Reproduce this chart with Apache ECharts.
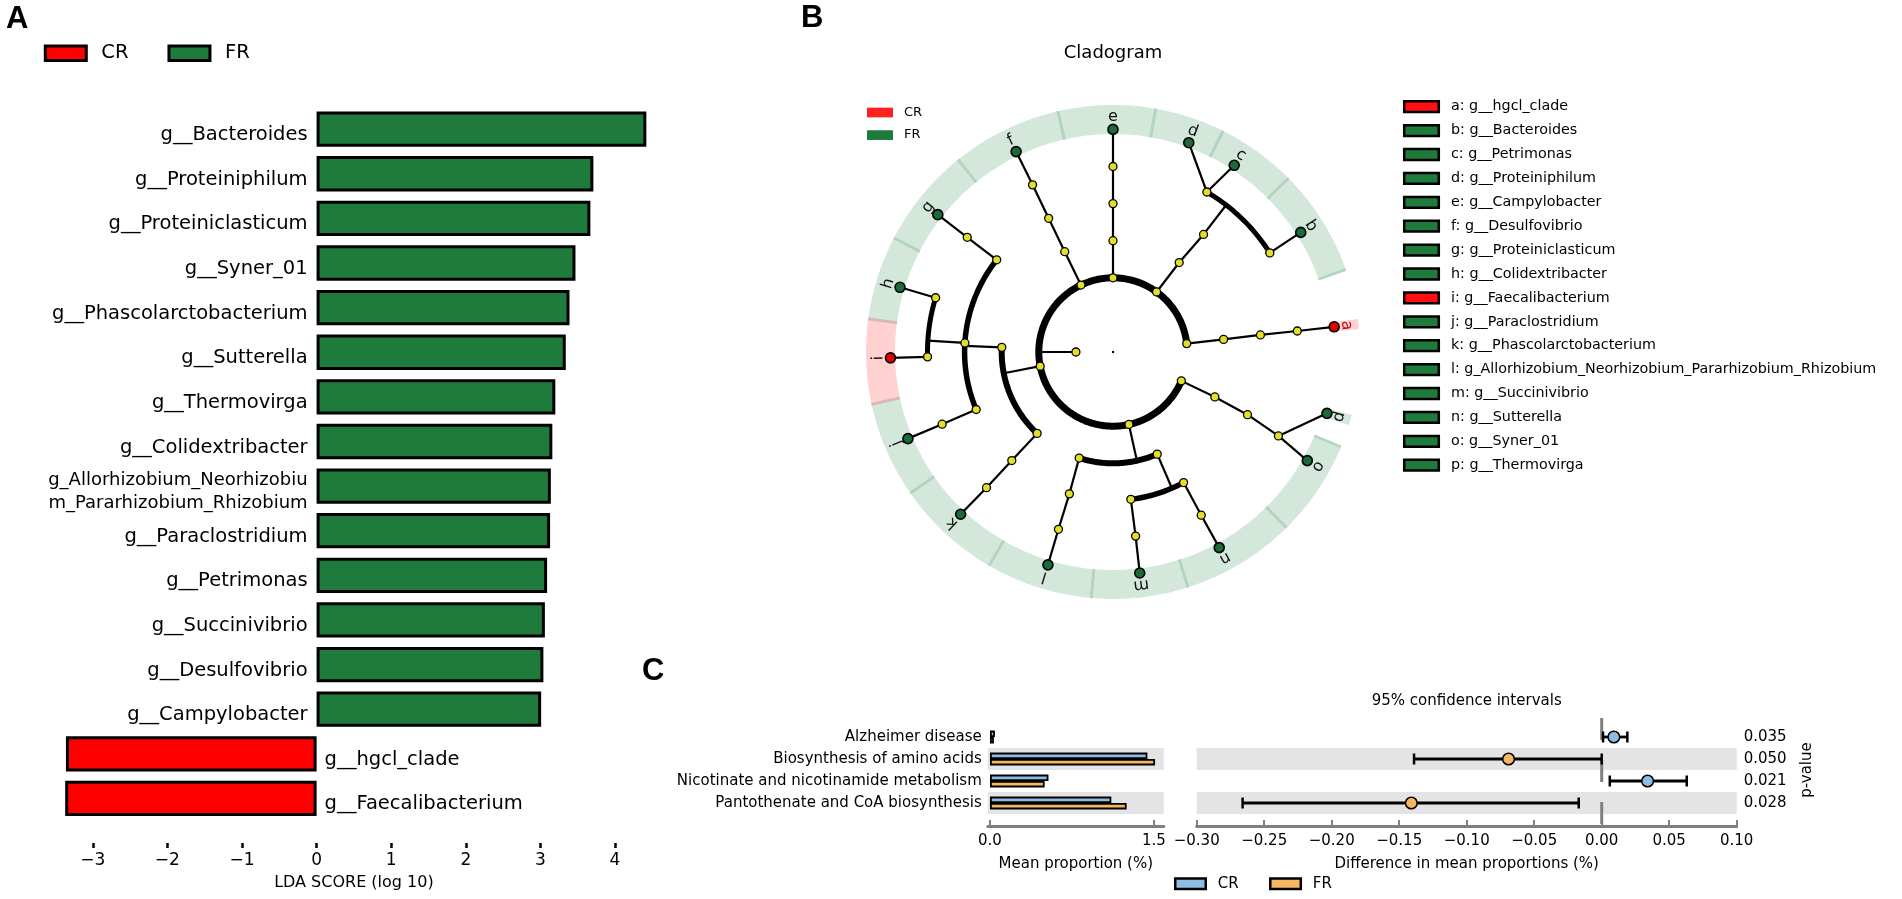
<!DOCTYPE html>
<html><head><meta charset="utf-8">
<script src="https://cdn.jsdelivr.net/npm/echarts@6/dist/echarts.min.js"></script>
<style>html,body{margin:0;padding:0;background:#fff;}#c{width:1902px;height:899px;}</style>
</head><body><div id="c"></div>
<script>
// ---------------- Panel A : LDA scores ----------------
const ldaTaxa = ['g__Bacteroides','g__Proteiniphilum','g__Proteiniclasticum','g__Syner_01','g__Phascolarctobacterium','g__Sutterella','g__Thermovirga','g__Colidextribacter','g_Allorhizobium_Neorhizobium_Pararhizobium_Rhizobium','g__Paraclostridium','g__Petrimonas','g__Succinivibrio','g__Desulfovibrio','g__Campylobacter','g__hgcl_clade','g__Faecalibacterium'];
const ldaScores = [4.42, 3.71, 3.67, 3.47, 3.39, 3.34, 3.20, 3.16, 3.14, 3.13, 3.09, 3.06, 3.04, 3.01, -3.36, -3.37];
const ldaGroups = ['FR','FR','FR','FR','FR','FR','FR','FR','FR','FR','FR','FR','FR','FR','CR','CR'];
const ldaTicks = [-3, -2, -1, 0, 1, 2, 3, 4];

// ---------------- Panel B : cladogram ----------------
const leafCodes = ['a','b','c','d','e','f','g','h','i','j','k','l','m','n','o','p'];
const leafNames = ['g__hgcl_clade','g__Bacteroides','g__Petrimonas','g__Proteiniphilum','g__Campylobacter','g__Desulfovibrio','g__Proteiniclasticum','g__Colidextribacter','g__Faecalibacterium','g__Paraclostridium','g__Phascolarctobacterium','g_Allorhizobium_Neorhizobium_Pararhizobium_Rhizobium','g__Succinivibrio','g__Sutterella','g__Syner_01','g__Thermovirga'];
const leafGroups = ['CR','FR','FR','FR','FR','FR','FR','FR','CR','FR','FR','FR','FR','FR','FR','FR'];
// tree nodes: id, parent, taxonomic level (0 = root ... 6 = genus), angle (deg)
const cladeIds     = ['root','K','P_a','P_bcd','P_e','P_f','P_gk','P_lmn','P_op','C_a','C_bcd','C_e','C_f','C_gj','C_k','C_l','C_mn','C_op','O_a','O_bcd','O_e','O_f','O_g','O_hi','O_j','O_k','O_l','O_m','O_n','O_op','F_a','F_b','F_cd','F_e','F_f','F_g','F_h','F_i','F_j','F_k','F_l','F_m','F_n','F_op','a','b','c','d','e','f','g','h','i','j','k','l','m','n','o','p'];
const cladeParents = [null,'root','K','K','K','K','K','K','K','P_a','P_bcd','P_e','P_f','P_gk','P_gk','P_lmn','P_lmn','P_op','C_a','C_bcd','C_e','C_f','C_gj','C_gj','C_gj','C_k','C_l','C_mn','C_mn','C_op','O_a','O_bcd','O_bcd','O_e','O_f','O_g','O_hi','O_hi','O_j','O_k','O_l','O_m','O_n','O_op','F_a','F_b','F_cd','F_cd','F_e','F_f','F_g','F_h','F_i','F_j','F_k','F_l','F_m','F_n','F_op','F_op'];
const cladeLevels  = [0,1,2,2,2,2,2,2,2,3,3,3,3,3,3,3,3,3,4,4,4,4,4,4,4,4,4,4,4,4,5,5,5,5,5,5,5,5,5,5,5,5,5,5,6,6,6,6,6,6,6,6,6,6,6,6,6,6,6,6];
const cladeAngles  = [0,180,6.5,54,90,115.6,191,282.4,337.1,6.5,53.5,90,115.7,177.6,227,252.3,293.4,336.2,6.6,52.4,90,115.7,141.6,176.5,202.8,227,252.9,276.9,298.4,335,6.5,32.3,59.6,90,115.7,141.8,163,181.5,202.9,227,252.9,277,298.4,333.1,6.5,32.5,57,70.1,90,115.8,141.9,163.1,181.5,202.9,226.8,253,276.9,298.5,330.8,344];

// ---------------- Panel C : STAMP ----------------
const pathways = ['Alzheimer disease','Biosynthesis of amino acids','Nicotinate and nicotinamide metabolism','Pantothenate and CoA biosynthesis'];
const meanCR = [0.045, 1.44, 0.535, 1.11];
const meanFR = [0.036, 1.51, 0.50, 1.25];
const diffMean = [0.009, -0.069, 0.034, -0.141];
const diffLow  = [0.001, -0.139, 0.006, -0.266];
const diffHigh = [0.019, 0.000, 0.063, -0.017];
const pValues = ['0.035','0.050','0.021','0.028'];

// ---------------- styles ----------------
const FONT = 'DejaVu Sans';
const BOLD = 'Liberation Sans';
const colA = {CR: '#ff0000', FR: '#1f7b3c'};
const colC = {CR: '#8fbce2', FR: '#f7b762'};
const leafFill = {CR: '#e40000', FR: '#1b6a39'};
const boxFill = {CR: '#ff1010', FR: '#1f7b3c'};
const bandFill = {CR: '#ffd1d1', FR: '#d3e8da'};
const bandEdge = {CR: '#e0b5b5', FR: '#b3d4be'};
const YELLOW = '#e4de26';
const BAND_IN = 5.876, BAND_OUT = 6.657, LABEL_R = 6.33;
const arcWidth = {1: 7, 2: 6, 3: 5.5, 4: 5};

const idxOf = {}; cladeIds.forEach((id, i) => idxOf[id] = i);
const kids = cladeIds.map(() => []);
cladeParents.forEach((p, i) => { if (p !== null) kids[idxOf[p]].push(i); });
const leafAngle = k => cladeAngles[idxOf[leafCodes[k]]];

function arcPts(api, lv, a1, a2) {
  const n = Math.max(2, Math.ceil(Math.abs(a2 - a1)) + 1), pts = [];
  for (let s = 0; s < n; s++) pts.push(api.coord([lv, a1 + (a2 - a1) * s / (n - 1)]));
  return pts;
}

function renderClade(params, api) {
  const i = params.dataIndex, lv = cladeLevels[i], ang = cladeAngles[i];
  const els = [];
  const p = cladeParents[i] === null ? -1 : idxOf[cladeParents[i]];
  if (p >= 0 && cladeLevels[p] > 0) {
    const sib = kids[p];
    if (sib.length === 1 || sib.every(k => kids[k].length === 0)) {
      const a = api.coord([cladeLevels[p], cladeAngles[p]]), b = api.coord([lv, ang]);
      els.push({type: 'line', z2: 1, shape: {x1: a[0], y1: a[1], x2: b[0], y2: b[1]}, style: {stroke: '#000', lineWidth: 2.2}});
    }
  }
  const ch = kids[i];
  if (lv > 0 && ch.length > 1 && !ch.every(k => kids[k].length === 0)) {
    const cl = cladeLevels[ch[0]];
    const angs = ch.map(k => cladeAngles[k]);
    els.push({type: 'polyline', z2: 2, shape: {points: arcPts(api, cl, Math.min(...angs), Math.max(...angs))}, style: {stroke: '#000', fill: 'none', lineWidth: arcWidth[lv] || 5}});
    const a = api.coord([lv, ang]), b = api.coord([cl, ang]);
    els.push({type: 'line', z2: 1, shape: {x1: a[0], y1: a[1], x2: b[0], y2: b[1]}, style: {stroke: '#000', lineWidth: 2.2}});
  }
  const c = api.coord([lv, ang]);
  let r, fill, lw = 1.3;
  if (lv === 0) { r = 1.2; fill = '#000'; lw = 0; }
  else if (ch.length === 0) { r = 5; fill = leafFill[leafGroups[leafCodes.indexOf(cladeIds[i])]]; lw = 1.6; }
  else { r = 4; fill = YELLOW; }
  els.push({type: 'circle', z2: 10, shape: {cx: c[0], cy: c[1], r: r}, style: {fill: fill, stroke: '#000', lineWidth: lw}});
  return {type: 'group', children: els};
}

function renderBand(params, api) {
  const k = params.dataIndex, n = leafCodes.length, ang = leafAngle(k);
  const inner = k > 0 && k < n - 1;
  const a1 = inner ? (leafAngle(k - 1) + ang) / 2 : ang - 1.2;
  const a2 = inner ? (ang + leafAngle(k + 1)) / 2 : ang + 1.2;
  const g = leafGroups[k];
  const pts = arcPts(api, BAND_OUT, a1, a2).concat(arcPts(api, BAND_IN, a2, a1));
  const els = [{type: 'polygon', z2: g === 'CR' ? 1 : 0, shape: {points: pts}, style: {fill: bandFill[g]}}];
  if (inner) {
    [a1, a2].forEach(a => {
      const p = api.coord([BAND_IN, a]), q = api.coord([BAND_OUT, a]);
      els.push({type: 'line', z2: g === 'CR' ? 3 : 2, shape: {x1: p[0], y1: p[1], x2: q[0], y2: q[1]}, style: {stroke: bandEdge[g], lineWidth: 2.6}});
    });
  }
  return {type: 'group', children: els};
}

function renderLeafLabel(params, api) {
  const k = params.dataIndex, ang = leafAngle(k);
  const c = api.coord([LABEL_R, ang]);
  return {type: 'text', x: c[0], y: c[1], rotation: (ang - 90) * Math.PI / 180,
    style: {text: leafCodes[k], fill: k === 0 ? '#c21010' : '#111', fontSize: 16, fontFamily: FONT, align: 'center', verticalAlign: 'middle'}};
}

function renderCI(params, api) {
  const i = params.dataIndex, row = api.value(0);
  const m = api.coord([api.value(1), row]), lo = api.coord([api.value(2), row]), hi = api.coord([api.value(3), row]);
  const y = m[1], cs = params.coordSys;
  const g = diffMean[i] >= 0 ? 'CR' : 'FR';
  return {type: 'group', children: [
    {type: 'line', shape: {x1: lo[0], y1: y, x2: hi[0], y2: y}, style: {stroke: '#000', lineWidth: 2.8}},
    {type: 'line', shape: {x1: lo[0], y1: y - 5.5, x2: lo[0], y2: y + 5.5}, style: {stroke: '#000', lineWidth: 2.5}},
    {type: 'line', shape: {x1: hi[0], y1: y - 5.5, x2: hi[0], y2: y + 5.5}, style: {stroke: '#000', lineWidth: 2.5}},
    {type: 'circle', z2: 5, shape: {cx: m[0], cy: y, r: 5.8}, style: {fill: colC[g], stroke: '#000', lineWidth: 1.5}},
    {type: 'text', x: cs.x + cs.width + 7, y: y, style: {text: pValues[i], fill: '#000', fontSize: 15, fontFamily: FONT, align: 'left', verticalAlign: 'middle'}}
  ]};
}

function renderZero(params, api) {
  const x = api.coord([0, 0])[0], cs = params.coordSys;
  return {type: 'line', shape: {x1: x, y1: cs.y - 8, x2: x, y2: cs.y + cs.height + 12}, style: {stroke: '#808080', lineWidth: 3, lineDash: [22, 20]}};
}

const minus = s => s.replace('-', '\u2212');
const wrapLabel = p => p.name.length > 30 ? '{w|' + p.name.slice(0, 27) + '}\n{w|' + p.name.slice(27) + '}' : p.name;
const barLabel = (pos, dist) => ({show: true, position: pos, distance: dist, formatter: wrapLabel, color: '#000', fontSize: 19.5, fontFamily: FONT, offset: [0, 6],
  rich: {w: {fontSize: 18, lineHeight: 23.3, fontFamily: FONT, color: '#000'}}});

const legendBox = (g, cols, bw) => ({name: g, itemStyle: {color: cols[g], borderColor: '#000', borderWidth: bw}});

const legendGraphics = [];
leafCodes.forEach((c, k) => {
  const y = 106.7 + 23.9 * k;
  legendGraphics.push({type: 'rect', shape: {x: 1404.2, y: y - 5.4, width: 34.6, height: 10.8}, style: {fill: boxFill[leafGroups[k]], stroke: '#000', lineWidth: 2.5}});
  legendGraphics.push({type: 'text', x: 1451, y: y, style: {text: c + ': ' + leafNames[k], fill: '#000', fontSize: 14.3, fontFamily: FONT, align: 'left', verticalAlign: 'middle'}});
});
legendGraphics.push({type: 'text', x: 1807, y: 770, rotation: Math.PI / 2, style: {text: 'p-value', fill: '#000', fontSize: 15, fontFamily: FONT, align: 'center', verticalAlign: 'middle'}});

const chart = echarts.init(document.getElementById('c'));
const option = {
  animation: false,
  backgroundColor: '#fff',
  textStyle: {fontFamily: FONT},
  title: [
    {text: 'A', left: 6, top: 4, padding: 0, textStyle: {fontFamily: BOLD, fontWeight: 'bold', fontSize: 31, color: '#000'}},
    {text: 'B', left: 801, top: 2.5, padding: 0, textStyle: {fontFamily: BOLD, fontWeight: 'bold', fontSize: 31, color: '#000'}},
    {text: 'C', left: 642, top: 656, padding: 0, textStyle: {fontFamily: BOLD, fontWeight: 'bold', fontSize: 31, color: '#000'}},
    {text: 'Cladogram', left: 1113, top: 44.5, textAlign: 'center', padding: 0, textStyle: {fontFamily: FONT, fontWeight: 'normal', fontSize: 18, color: '#000'}},
    {text: '95% confidence intervals', left: 1466.7, top: 693.2, textAlign: 'center', padding: 0, textStyle: {fontFamily: FONT, fontWeight: 'normal', fontSize: 15, color: '#000'}}
  ],
  legend: [
    {data: [legendBox('CR', colA, 3), legendBox('FR', colA, 3)], left: 43.8, top: 43.2, padding: 0, icon: 'rect', itemWidth: 41, itemHeight: 14.6, itemGap: 39, selectedMode: false,
      textStyle: {fontSize: 19.5, fontFamily: FONT, color: '#000', padding: [0, 0, 0, 10]}},
    {data: [{name: 'CR', itemStyle: {color: '#ff2020', borderWidth: 0}}, {name: 'FR', itemStyle: {color: '#1f7b3c', borderWidth: 0}}], orient: 'vertical', left: 867, top: 106, padding: 0, icon: 'rect', itemWidth: 26, itemHeight: 9.7, itemGap: 9.6, selectedMode: false,
      textStyle: {fontSize: 13, fontFamily: FONT, color: '#000', padding: [0, 0, 0, 6]}},
    {data: [legendBox('CR', colC, 2.5), legendBox('FR', colC, 2.5)], left: 1174, top: 876.3, padding: 0, icon: 'rect', itemWidth: 30.5, itemHeight: 10.5, itemGap: 30.4, selectedMode: false,
      textStyle: {fontSize: 15, fontFamily: FONT, color: '#000', padding: [0, 0, 0, 7]}}
  ],
  grid: [
    {left: 18.2, top: 106.84, width: 671.4, height: 713.9, containLabel: false, outerBoundsMode: 'none'},
    {left: 987.8, top: 726, width: 176, height: 88, containLabel: false, outerBoundsMode: 'none'},
    {left: 1196.7, top: 726, width: 540, height: 88, containLabel: false, outerBoundsMode: 'none'}
  ],
  xAxis: [
    {gridIndex: 0, type: 'value', min: -4, max: 5, offset: 27.3, axisLine: {show: false}, splitLine: {show: false},
      axisTick: {show: true, inside: true, length: 5, lineStyle: {color: '#000', width: 2.5}, customValues: ldaTicks},
      axisLabel: {customValues: ldaTicks, formatter: v => minus(String(v)), fontSize: 17, color: '#000', fontFamily: FONT, margin: 4},
      name: 'LDA SCORE (log 10)', nameLocation: 'middle', nameGap: 27, nameTextStyle: {fontSize: 16, color: '#000', fontFamily: FONT}},
    {gridIndex: 1, type: 'value', min: -0.02, max: 1.59, offset: 12, splitLine: {show: false},
      axisLine: {show: true, lineStyle: {color: '#808080', width: 3}},
      axisTick: {show: true, inside: true, length: 6, lineStyle: {color: '#808080', width: 2}, customValues: [0, 1.5]},
      axisLabel: {customValues: [0, 1.5], formatter: v => v.toFixed(1), fontSize: 15, color: '#000', fontFamily: FONT, margin: 8},
      name: 'Mean proportion (%)', nameLocation: 'middle', nameGap: 31, nameTextStyle: {fontSize: 15, color: '#000', fontFamily: FONT}},
    {gridIndex: 2, type: 'value', min: -0.3, max: 0.1, interval: 0.05, offset: 12, splitLine: {show: false},
      axisLine: {show: true, onZero: false, lineStyle: {color: '#808080', width: 3}},
      axisTick: {show: true, inside: true, length: 6, lineStyle: {color: '#808080', width: 2}},
      axisLabel: {formatter: v => minus(v.toFixed(2)), fontSize: 15, color: '#000', fontFamily: FONT, margin: 8, showMinLabel: true, showMaxLabel: true},
      name: 'Difference in mean proportions (%)', nameLocation: 'middle', nameGap: 31, nameTextStyle: {fontSize: 15, color: '#000', fontFamily: FONT}}
  ],
  yAxis: [
    {gridIndex: 0, type: 'category', data: ldaTaxa, inverse: true, show: false},
    {gridIndex: 1, type: 'category', data: pathways, inverse: true, axisLine: {show: false}, axisTick: {show: false}, splitLine: {show: false},
      axisLabel: {fontSize: 15, color: '#000', fontFamily: FONT, margin: 6},
      splitArea: {show: true, areaStyle: {color: ['rgba(0,0,0,0)', '#e4e4e4']}}},
    {gridIndex: 2, type: 'category', data: pathways, inverse: true, axisLine: {show: false}, axisTick: {show: false}, splitLine: {show: false},
      axisLabel: {show: false}, splitArea: {show: true, areaStyle: {color: ['rgba(0,0,0,0)', '#e4e4e4']}}}
  ],
  polar: {center: [1113, 352], radius: 259.7},
  angleAxis: {type: 'value', min: 0, max: 360, startAngle: 0, clockwise: false, show: false},
  radiusAxis: {type: 'value', min: 0, max: 7, show: false},
  graphic: legendGraphics,
  series: [
    {name: 'FR', type: 'bar', xAxisIndex: 0, yAxisIndex: 0, barWidth: 35.3, barGap: '-100%', silent: true,
      data: ldaScores.map((v, i) => ldaGroups[i] === 'FR' ? v : '-'),
      itemStyle: {color: colA.FR, borderColor: '#000', borderWidth: 3}, label: barLabel('left', 9)},
    {name: 'CR', type: 'bar', xAxisIndex: 0, yAxisIndex: 0, barWidth: 35.3, barGap: '-100%', silent: true,
      data: ldaScores.map((v, i) => ldaGroups[i] === 'CR' ? v : '-'),
      itemStyle: {color: colA.CR, borderColor: '#000', borderWidth: 3}, label: barLabel('right', 8)},
    {name: 'CR', type: 'bar', xAxisIndex: 1, yAxisIndex: 1, barWidth: 6.4, barGap: '0%', silent: true, data: meanCR,
      itemStyle: {color: colC.CR, borderColor: '#000', borderWidth: 1.8}},
    {name: 'FR', type: 'bar', xAxisIndex: 1, yAxisIndex: 1, barWidth: 6.4, barGap: '0%', silent: true, data: meanFR,
      itemStyle: {color: colC.FR, borderColor: '#000', borderWidth: 1.8}},
    {type: 'custom', xAxisIndex: 2, yAxisIndex: 2, silent: true, z: 1, data: [[0, 0]], encode: {x: 0, y: 1}, renderItem: renderZero},
    {type: 'custom', xAxisIndex: 2, yAxisIndex: 2, silent: true, z: 3,
      data: pathways.map((p, i) => [i, diffMean[i], diffLow[i], diffHigh[i]]), encode: {x: [1, 2, 3], y: 0}, renderItem: renderCI},
    {type: 'custom', coordinateSystem: 'polar', silent: true, z: 1,
      data: leafCodes.map((c, k) => [BAND_IN, leafAngle(k)]), encode: {radius: 0, angle: 1}, renderItem: renderBand},
    {type: 'custom', coordinateSystem: 'polar', silent: true, z: 3,
      data: cladeIds.map((id, i) => [cladeLevels[i], cladeAngles[i]]), encode: {radius: 0, angle: 1}, renderItem: renderClade},
    {type: 'custom', coordinateSystem: 'polar', silent: true, z: 4,
      data: leafCodes.map((c, k) => [LABEL_R, leafAngle(k)]), encode: {radius: 0, angle: 1}, renderItem: renderLeafLabel}
  ]
};
chart.setOption(option);
</script></body></html>
